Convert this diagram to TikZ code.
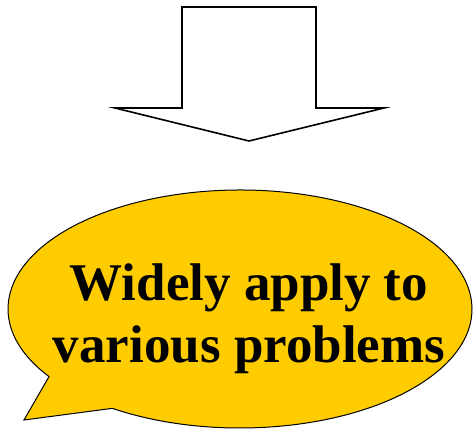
\documentclass[tikz,border=0pt]{standalone}
\usepackage{fontspec}
\setmainfont{Liberation Serif}
\definecolor{bubble}{HTML}{FFCC00}
\begin{document}
\begin{tikzpicture}[x=1pt,y=1pt,
  arrowshape/.style={draw=black,line width=1.6pt,fill=white,line join=miter},
  bubbleshape/.style={draw=black,line width=1pt,fill=bubble,line join=miter},
  bubbletext/.style={inner sep=0pt,align=center,font=\bfseries\fontsize{53}{62}\selectfont}]
\useasboundingbox (0,0) rectangle (473,430);
\draw[arrowshape] (182,423) -- (316,423) -- (316,322) -- (384,322) -- (249,289) -- (115,322) -- (182,322) -- cycle;
\draw[bubbleshape] (240,121) ++(236.6:232 and 119) coordinate (tb)
  arc[start angle=236.6,end angle=574.6,x radius=232,y radius=119] coordinate (ta)
  -- (24,10) coordinate (tail) -- cycle;
\node[bubbletext] (txt) at (249,111) {Widely apply to\\various problems};
\end{tikzpicture}
\end{document}
